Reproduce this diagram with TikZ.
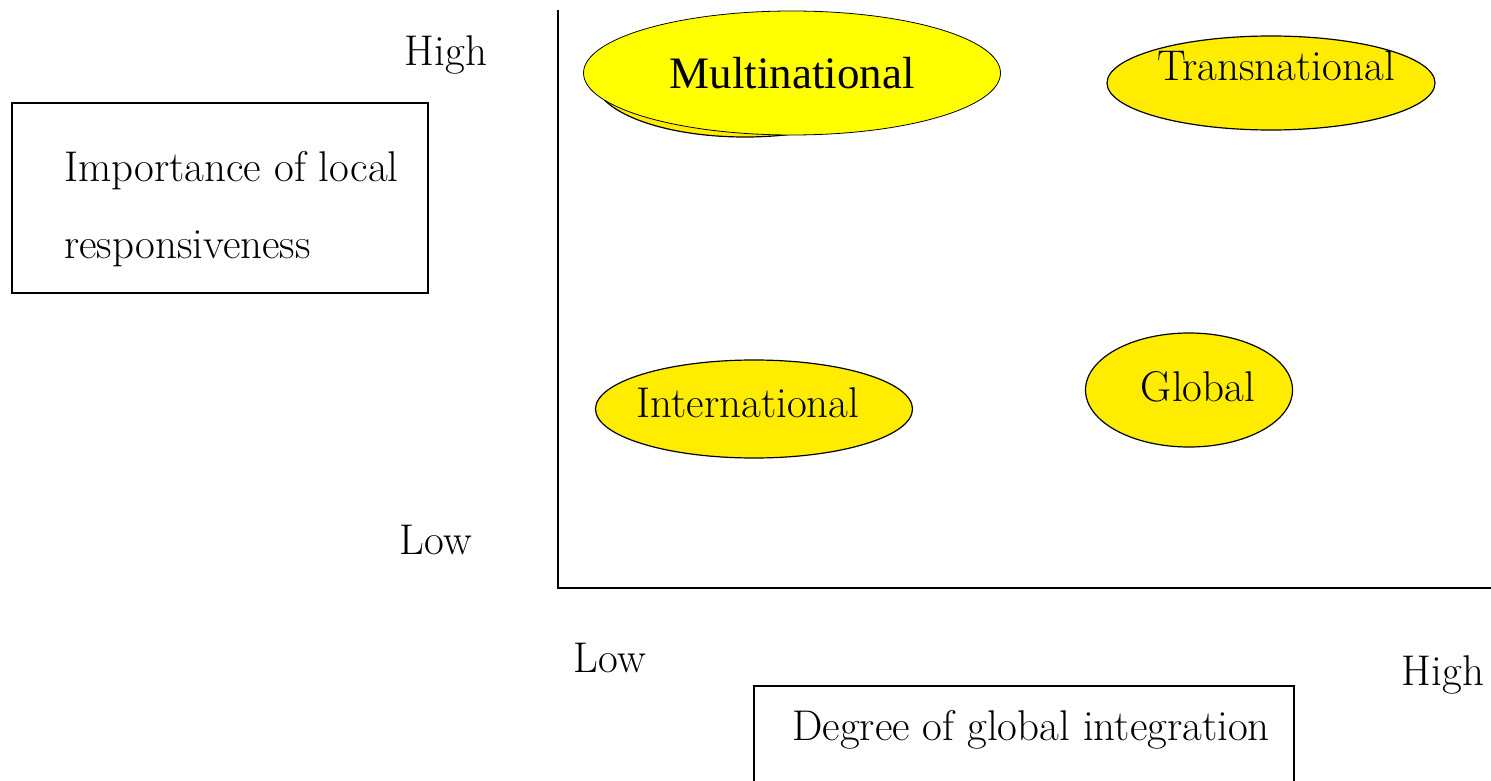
\documentclass[tikz,border=0pt]{standalone}
\usepackage{fontspec}
\newfontfamily\timesfont{Liberation Serif}
\usetikzlibrary{shapes.geometric}
\definecolor{ellyellow}{RGB}{255,236,0}
\definecolor{pureyellow}{RGB}{255,255,0}
\tikzset{
  oval/.style={ellipse, draw=black, line width=1.2pt, fill=ellyellow, inner sep=0pt},
  lbl/.style={inner sep=0pt, anchor=base, font=\fontsize{43}{48}\selectfont},
  frame/.style={draw=black, line width=2pt},
  axis/.style={draw=black, line width=2.2pt},
}
\begin{document}
\begin{tikzpicture}[x=1pt,y=-1pt]
\useasboundingbox[fill=white] (0,0) rectangle (1491,781);
% axes
\coordinate (top) at (558,10);
\coordinate (origin) at (558,588);
\coordinate (right) at (1495,588);
\draw[axis] (top) -- (origin) -- (right);
% left box
\node[frame, minimum width=416pt, minimum height=190pt, anchor=north west] (lbox) at (11,102) {};
\node[lbl, anchor=base west] (l1) at (64,182) {Importance of local};
\node[lbl, anchor=base west] (l2) at (64,258) {responsiveness};
% bottom box
\node[frame, minimum width=540pt, minimum height=130pt, anchor=north west] (bbox) at (753,685) {};
\node[lbl] (btxt) at (1031,740) {Degree of global integration};
% axis labels
\node[lbl] (yhigh) at (446,66) {High};
\node[lbl] (ylow) at (436,554) {Low};
\node[lbl] (xlow) at (610,672) {Low};
\node[lbl] (xhigh) at (1443,685) {High};
% ellipses
\node[oval, minimum width=300pt, minimum height=114pt] (mshadow) at (745,80) {};
\node[oval, fill=pureyellow, line width=0.8pt, minimum width=417pt, minimum height=124pt] (multi) at (792,73) {};
\node[inner sep=0pt, anchor=base, font=\timesfont\fontsize{45}{50}\selectfont] (multitxt) at (792,89) {Multinational};
\node[oval, minimum width=328pt, minimum height=94pt] (trans) at (1271,83) {};
\node[lbl] (transtxt) at (1276,81) {Transnational};
\node[oval, minimum width=317pt, minimum height=98pt] (inter) at (754,409) {};
\node[lbl] (intertxt) at (748,417) {International};
\node[oval, minimum width=207pt, minimum height=114pt] (glob) at (1189,390) {};
\node[lbl] (globtxt) at (1198,401) {Global};
\end{tikzpicture}
\end{document}
